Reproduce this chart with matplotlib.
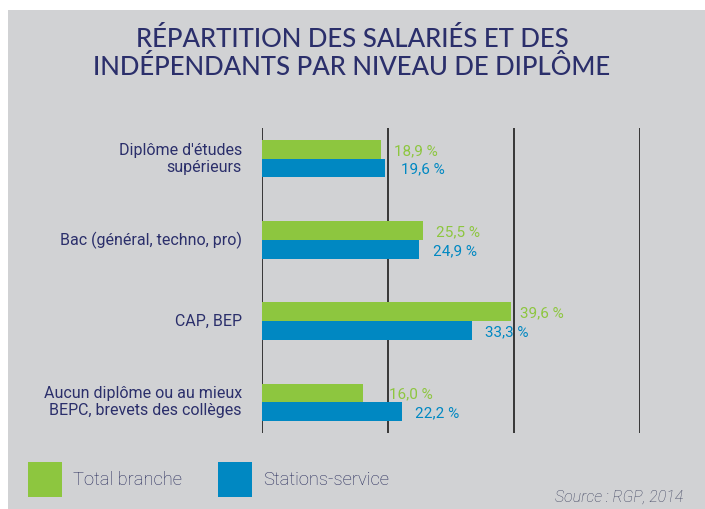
import matplotlib.pyplot as plt
import matplotlib.patches as mpatches

# data
categories = ["Diplôme d'études\nsupérieurs", "Bac (général, techno, pro)", "CAP, BEP",
              "Aucun diplôme ou au mieux\nBEPC, brevets des collèges"]
total_branche = [18.9, 25.5, 39.6, 16.0]
stations = [19.6, 24.9, 33.3, 22.2]
series_names = ["Total branche", "Stations-service"]
# extra gap between bar end and its label (in %)
label_gap_total = [2.1, 2.1, 1.3, 4.2]
label_gap_stations = [2.4, 2.2, 2.1, 2.1]

BG = "#d1d2d4"
GREEN = "#8dc63f"
BLUE = "#0088c2"
NAVY = "#2b2f6b"

plt.rcParams["font.family"] = ["Roboto", "DejaVu Sans"]

W, H = 705, 509
fig = plt.figure(figsize=(W / 100, H / 100), dpi=100, facecolor="white")
fig.patches.append(mpatches.Rectangle((8 / W, 0), 1, 1 - 10 / H, transform=fig.transFigure,
                                      facecolor=BG, edgecolor="none", zorder=-10))

ax = fig.add_axes([262 / W, 1 - 433 / H, (640 - 262) / W, (433 - 128) / H])
ax.set_zorder(5)
ax.set_facecolor("none")
for s in ax.spines.values():
    s.set_visible(False)
ax.set_xlim(0, 60)
ax.set_ylim(3.38, -0.38)
ax.set_xticks([])
ax.set_yticks([])
for x in [0, 20, 40, 60]:
    ax.axvline(x, color="#2a2a2a", lw=1.3, zorder=1)

bh = 0.23
ys = list(range(len(categories)))
ax.barh([y - bh / 2 for y in ys], total_branche, height=bh, color=GREEN, zorder=2)
ax.barh([y + bh / 2 for y in ys], stations, height=bh, color=BLUE, zorder=2)

for i, y in enumerate(ys):
    ax.text(total_branche[i] + label_gap_total[i], y - bh / 2 + 0.02,
            f"{total_branche[i]:.1f} %".replace(".", ","),
            color=GREEN, fontsize=11, va="center", ha="left")
    ax.text(stations[i] + label_gap_stations[i], y + bh / 2 + 0.02,
            f"{stations[i]:.1f} %".replace(".", ","),
            color=BLUE, fontsize=11, va="center", ha="left")
    ax.text(-3.2, y, categories[i], color=NAVY, fontsize=11.5, ha="right", va="center",
            linespacing=1.2, clip_on=False)

# title
fig.text(352 / W, 1 - 53 / H, "RÉPARTITION DES SALARIÉS ET DES\nINDÉPENDANTS PAR NIVEAU DE DIPLÔME",
         ha="center", va="center", color=NAVY, fontsize=18.5, family=["Lato", "DejaVu Sans"],
         fontweight="medium", linespacing=1.15)

# legend
for x0, col, name in [(28, GREEN, series_names[0]), (218, BLUE, series_names[1])]:
    fig.patches.append(mpatches.Rectangle((x0 / W, 1 - 497 / H), 34 / W, 35 / H,
                                          transform=fig.transFigure, facecolor=col,
                                          edgecolor="none"))
    fig.text((x0 + 45) / W, 1 - 480 / H, name, color="#262a5a", fontsize=13.2,
             fontweight="light", ha="left", va="center")

fig.text(683 / W, 1 - 497 / H, "Source : RGP, 2014", color="#3f4460", fontsize=11.5,
         style="italic", fontweight="light", ha="right", va="center")

fig.savefig("out.png", dpi=100, facecolor="white")
